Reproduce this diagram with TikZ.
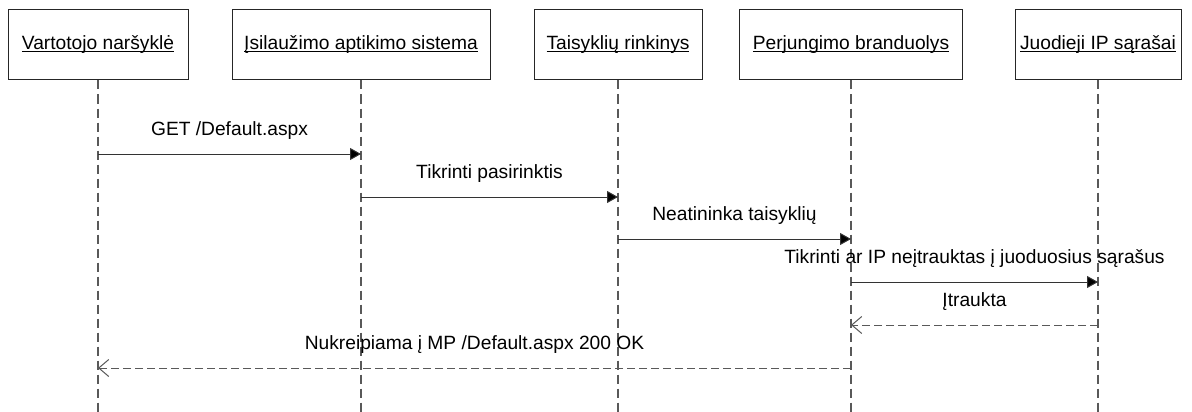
\documentclass[tikz,border=0pt]{standalone}
\usepackage{fontspec}
\setmainfont{Liberation Sans}
\usetikzlibrary{arrows.meta}
\newcommand\myul[1]{\setbox0\hbox{#1}\rlap{\rule[-0.12em]{\wd0}{0.055em}}\box0}
\begin{document}
\begin{tikzpicture}[x=1pt,y=-1pt,
  actor/.style={draw=black!85, line width=1pt, minimum height=70pt, inner sep=0pt, fill=white,
    font=\fontsize{19.2}{23}\selectfont},
  life/.style={draw=black!65, line width=1.1pt, dash pattern=on 9pt off 5pt},
  msg/.style={draw=black!80, line width=1pt, -{Triangle[length=11pt,width=12pt,fill=black]}},
  ret/.style={draw=black!65, line width=1pt, dash pattern=on 8pt off 4pt,
    -{Straight Barb[length=10pt,width=17pt,line width=1pt]}},
  lbl/.style={font=\fontsize{19.2}{23}\selectfont, inner sep=0pt}]
\useasboundingbox (0,0) rectangle (1192,412);
\fill[white] (0,0) rectangle (1192,412);
\coordinate (bot) at (0,412);
\node[actor, minimum width=180pt] (b1) at (98,45) {\myul{Vartotojo naršyklė}};
\node[actor, minimum width=258pt] (b2) at (361,45) {\myul{Įsilaužimo aptikimo sistema}};
\node[actor, minimum width=168pt] (b3) at (618,45) {\myul{Taisyklių rinkinys}};
\node[actor, minimum width=223pt] (b4) at (851,45) {\myul{Perjungimo branduolys}};
\node[actor, minimum width=166pt] (b5) at (1098,45) {\myul{Juodieji IP sąrašai}};
\foreach \b in {b1,b2,b3,b4,b5} \draw[life] (\b.south) -- (\b.south |- bot);
% message rows
\coordinate (m1) at (0,154);
\coordinate (m2) at (0,197);
\coordinate (m3) at (0,239);
\coordinate (m4) at (0,282);
\coordinate (m5) at (0,325);
\coordinate (m6) at (0,368);
\draw[msg] (b1.south |- m1) -- node[lbl, above=14pt] (t1) {GET /Default.aspx} (b2.south |- m1);
\draw[msg] (b2.south |- m2) -- node[lbl, above=14pt] (t2) {Tikrinti pasirinktis} (b3.south |- m2);
\draw[msg] (b3.south |- m3) -- node[lbl, above=14pt] (t3) {Neatininka taisyklių} (b4.south |- m3);
\draw[msg] (b4.south |- m4) -- node[lbl, above=14pt] (t4) {Tikrinti ar IP neįtrauktas į juoduosius sąrašus} (b5.south |- m4);
\draw[ret] (b5.south |- m5) -- node[lbl, above=14pt] (t5) {Įtraukta} (b4.south |- m5);
\draw[ret] (b4.south |- m6) -- node[lbl, above=14pt] (t6) {Nukreipiama į MP /Default.aspx 200 OK} (b1.south |- m6);
\end{tikzpicture}
\end{document}
